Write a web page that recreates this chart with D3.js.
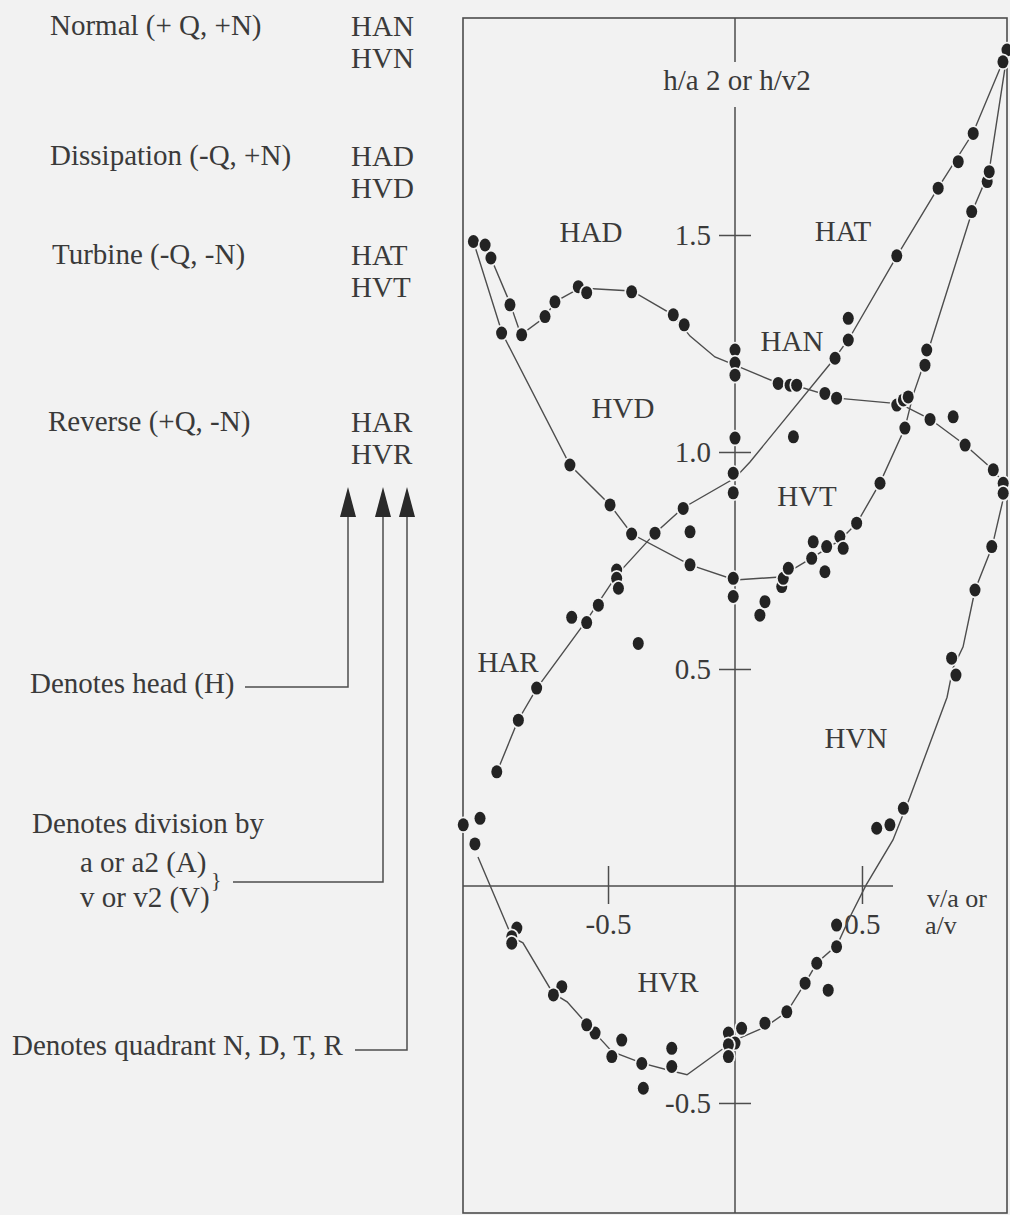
<!DOCTYPE html>
<html><head><meta charset="utf-8">
<script src="https://cdn.jsdelivr.net/npm/d3@7"></script>
<style>html,body{margin:0;padding:0;background:#f2f2f2;}</style>
</head><body>
<script>
// ---------------- DATA ----------------
const quadrantNames = ["Normal (+ Q, +N)", "Dissipation (-Q, +N)", "Turbine (-Q, -N)", "Reverse (+Q, -N)"];
const headCodes = [["HAN", "HVN"], ["HAD", "HVD"], ["HAT", "HVT"], ["HAR", "HVR"]];
const curveLabels = ["HAD", "HAT", "HAN", "HVD", "HVT", "HAR", "HVN", "HVR"];
const yTicks = [1.5, 1.0, 0.5, -0.5];
const xTicks = [-0.5, 0.5];
const yAxisTitle = "h/a 2 or h/v2";
const xAxisTitle = ["v/a or", "a/v"];

// fitted curves (x = v/a or a/v, y = h/a2 or h/v2)
const hadHanLine = [[-0.984,1.477],[-0.961,1.447],[-0.886,1.343],[-0.843,1.270],[-0.748,1.311],[-0.709,1.346],[-0.610,1.378],[-0.406,1.371],[-0.244,1.316],[-0.177,1.267],[-0.079,1.219],[0,1.200],[0.169,1.159],[0.244,1.152],[0.402,1.124],[0.650,1.111],[0.768,1.076],[0.906,1.016],[1.016,0.959],[1.063,0.924]];
const hatHarLine = [[1.071,1.922],[0.937,1.735],[0.799,1.608],[0.638,1.452],[0.453,1.265],[0.394,1.217],[0.059,0.977],[0,0.940],[-0.205,0.871],[-0.315,0.813],[-0.465,0.717],[-0.583,0.613],[-0.780,0.456],[-0.854,0.382],[-0.937,0.263]];
const hvdHvtLine = [[-1.030,1.485],[-0.917,1.274],[-0.650,0.970],[-0.492,0.878],[-0.406,0.811],[-0.177,0.740],[0,0.705],[0.177,0.712],[0.303,0.756],[0.413,0.797],[0.480,0.836],[0.571,0.929],[0.669,1.055],[0.701,1.131],[0.752,1.217],[0.933,1.553],[1.000,1.645],[1.071,1.915]];
const hvnHvrLine = [[1.063,0.924],[1.055,0.889],[1.012,0.781],[0.945,0.682],[0.898,0.551],[0.858,0.502],[0.835,0.435],[0.689,0.205],[0.622,0.106],[0.516,0.002],[0.453,-0.071],[0.402,-0.136],[0.323,-0.177],[0.276,-0.224],[0.205,-0.290],[0.118,-0.325],[0,-0.355],[-0.189,-0.435],[-0.264,-0.424],[-0.366,-0.408],[-0.484,-0.382],[-0.551,-0.339],[-0.661,-0.267],[-0.717,-0.247],[-0.835,-0.131],[-0.878,-0.118],[-1.012,0.067]];

// measured test points
const hadHanPts = [[-1.030,1.485],[-0.984,1.477],[-0.961,1.447],[-0.886,1.339],[-0.840,1.270],[-0.748,1.312],[-0.709,1.346],[-0.617,1.381],[-0.584,1.367],[-0.407,1.369],[-0.243,1.316],[-0.200,1.293],[0,1.235],[0,1.205],[0,1.177],[0.170,1.158],[0.217,1.154],[0.243,1.154],[0.354,1.135],[0.400,1.124],[0.637,1.108],[0.663,1.120],[0.768,1.075],[0.859,1.081],[0.906,1.016],[1.017,0.959],[1.056,0.928]];
const hatHarPts = [[1.071,1.926],[0.938,1.734],[0.879,1.669],[0.800,1.608],[0.637,1.452],[0.446,1.308],[0.446,1.258],[0.394,1.216],[0.230,1.035],[0,1.032],[-0.007,0.951],[-0.007,0.906],[-0.204,0.870],[-0.315,0.813],[-0.177,0.816],[-0.466,0.728],[-0.466,0.709],[-0.459,0.686],[-0.538,0.647],[-0.584,0.607],[-0.643,0.619],[-0.381,0.559],[-0.781,0.456],[-0.853,0.382],[-0.938,0.263],[-1.004,0.156],[-1.070,0.141],[-1.024,0.097]];
const hvdHvtPts = [[-0.919,1.274],[-0.650,0.970],[-0.492,0.878],[-0.407,0.811],[-0.177,0.740],[-0.007,0.709],[-0.007,0.667],[0.098,0.624],[0.118,0.655],[0.184,0.690],[0.190,0.709],[0.210,0.732],[0.302,0.755],[0.308,0.793],[0.354,0.724],[0.361,0.782],[0.413,0.805],[0.426,0.778],[0.479,0.836],[0.571,0.928],[0.669,1.055],[0.682,1.127],[0.748,1.200],[0.755,1.235],[0.932,1.554],[0.993,1.623],[1.001,1.646],[1.055,1.899]];
const hvnHvrPts = [[1.056,0.905],[1.011,0.782],[0.945,0.682],[0.853,0.525],[0.870,0.486],[0.663,0.179],[0.610,0.141],[0.558,0.133],[0.400,-0.090],[0.400,-0.140],[0.322,-0.178],[0.367,-0.240],[0.276,-0.224],[0.204,-0.290],[0.118,-0.316],[0.026,-0.328],[-0.026,-0.339],[0,-0.362],[-0.026,-0.366],[-0.026,-0.393],[-0.249,-0.374],[-0.249,-0.416],[-0.367,-0.409],[-0.361,-0.466],[-0.446,-0.355],[-0.485,-0.393],[-0.551,-0.339],[-0.584,-0.320],[-0.682,-0.232],[-0.715,-0.251],[-0.859,-0.097],[-0.879,-0.117],[-0.879,-0.132]];

// ---------------- LAYOUT ----------------
const W = 1010, H = 1215;
const BG = "#f2f2f2", INK = "#3a3a3a", LINE = "#4d4d4d", DOT = "#232323";
const FONT = "'Liberation Serif','Times New Roman',serif";
const FS = 29;

const svg = d3.select("body").append("svg").attr("width", W).attr("height", H)
  .style("font-family", FONT);
svg.append("rect").attr("width", W).attr("height", H).attr("fill", BG);

const x = d3.scaleLinear().domain([-1.071, 1.071]).range([463, 1007]);
const y = d3.scaleLinear().domain([-0.7535, 2.0]).range([1213, 18]);

// frame
svg.append("rect").attr("x", x.range()[0]).attr("y", y.range()[1])
  .attr("width", x.range()[1] - x.range()[0]).attr("height", y.range()[0] - y.range()[1])
  .attr("fill", "none").attr("stroke", LINE).attr("stroke-width", 1.6);

// axes lines
const x0 = x(0), y0 = y(0);
svg.append("line").attr("x1", x0).attr("x2", x0).attr("y1", y.range()[1]).attr("y2", 62)
  .attr("stroke", LINE).attr("stroke-width", 1.5);
svg.append("line").attr("x1", x0).attr("x2", x0).attr("y1", 107).attr("y2", y.range()[0])
  .attr("stroke", LINE).attr("stroke-width", 1.5);
svg.append("line").attr("x1", x.range()[0]).attr("x2", 893).attr("y1", y0).attr("y2", y0)
  .attr("stroke", LINE).attr("stroke-width", 1.5);

const fmt = d => d.toFixed(1);
// y ticks (cross ticks)
const gyL = svg.append("g").attr("transform", `translate(${x0},0)`)
  .call(d3.axisLeft(y).tickValues(yTicks).tickSize(16).tickPadding(8).tickFormat(fmt));
const gyR = svg.append("g").attr("transform", `translate(${x0},0)`)
  .call(d3.axisRight(y).tickValues(yTicks).tickSize(16).tickFormat(""));
const gxB = svg.append("g").attr("transform", `translate(0,${y0})`)
  .call(d3.axisBottom(x).tickValues(xTicks).tickSize(18).tickPadding(9).tickFormat(fmt));
const gxT = svg.append("g").attr("transform", `translate(0,${y0})`)
  .call(d3.axisTop(x).tickValues(xTicks).tickSize(20).tickFormat(""));
[gyL, gyR, gxB, gxT].forEach(g => {
  g.select(".domain").remove();
  g.selectAll("line").attr("stroke", LINE).attr("stroke-width", 1.5);
  g.selectAll("text").attr("font-family", FONT).attr("font-size", FS).attr("fill", INK);
});

// axis titles
svg.append("text").attr("x", 737).attr("y", 90).attr("text-anchor", "middle")
  .attr("font-size", FS).attr("fill", INK).text(yAxisTitle);
svg.append("text").attr("x", 927).attr("y", 907).attr("font-size", 26).attr("fill", INK).text(xAxisTitle[0]);
svg.append("text").attr("x", 925).attr("y", 934).attr("font-size", 26).attr("fill", INK).text(xAxisTitle[1]);

// curves
const lineGen = d3.line().x(d => x(d[0])).y(d => y(d[1]));
[hadHanLine, hatHarLine, hvdHvtLine, hvnHvrLine].forEach(ln => {
  svg.append("path").attr("d", lineGen(ln)).attr("fill", "none")
    .attr("stroke", LINE).attr("stroke-width", 1.4);
});

// points
const allPts = [].concat(hadHanPts, hatHarPts, hvdHvtPts, hvnHvrPts);
svg.append("g").selectAll("ellipse").data(allPts).join("ellipse")
  .attr("cx", d => x(d[0])).attr("cy", d => y(d[1]))
  .attr("rx", 5.5).attr("ry", 6.5)
  .attr("fill", DOT).attr("stroke", BG).attr("stroke-width", 3.5)
  .attr("paint-order", "stroke");

// curve labels inside plot
const labelPos = {HAD:[591,242], HAT:[843,241], HAN:[792,351], HVD:[623,418], HVT:[807,506], HAR:[508,672], HVN:[856,748], HVR:[668,992]};
svg.append("g").selectAll("text").data(curveLabels).join("text")
  .attr("x", d => labelPos[d][0]).attr("y", d => labelPos[d][1])
  .attr("text-anchor", "middle").attr("font-size", FS).attr("fill", INK).text(d => d);

// legend block
const rowBase = [35, 165, 264, 431];
const nameX = [50, 50, 52, 48];
quadrantNames.forEach((n, i) => {
  svg.append("text").attr("x", nameX[i]).attr("y", rowBase[i]).attr("font-size", FS).attr("fill", INK).text(n);
  headCodes[i].forEach((c, j) => {
    svg.append("text").attr("x", 351).attr("y", rowBase[i] + 1 + j * 32).attr("font-size", FS).attr("fill", INK).text(c);
  });
});

// arrows
const arrows = [
  {x: 348, yEnd: 687, xEnd: 245},
  {x: 383, yEnd: 882, xEnd: 233},
  {x: 407, yEnd: 1050, xEnd: 355}
];
arrows.forEach(a => {
  svg.append("path").attr("d", `M${a.x},510 V${a.yEnd} H${a.xEnd}`)
    .attr("fill", "none").attr("stroke", LINE).attr("stroke-width", 1.5);
  svg.append("path").attr("d", `M${a.x},487 L${a.x - 8},517 L${a.x + 8},517 Z`).attr("fill", "#2a2a2a");
});
const notes = [
  {t: "Denotes head (H)", x: 30, y: 693},
  {t: "Denotes division by", x: 32, y: 833},
  {t: "a or a2 (A)", x: 80, y: 872},
  {t: "v or v2 (V)", x: 80, y: 907},
  {t: "Denotes quadrant N, D, T, R", x: 12, y: 1055}
];
notes.forEach(n => svg.append("text").attr("x", n.x).attr("y", n.y).attr("font-size", FS).attr("fill", INK).text(n.t));
svg.append("text").attr("x", 211).attr("y", 887).attr("font-size", 22).attr("fill", INK).text("}");
</script>
</body></html>
